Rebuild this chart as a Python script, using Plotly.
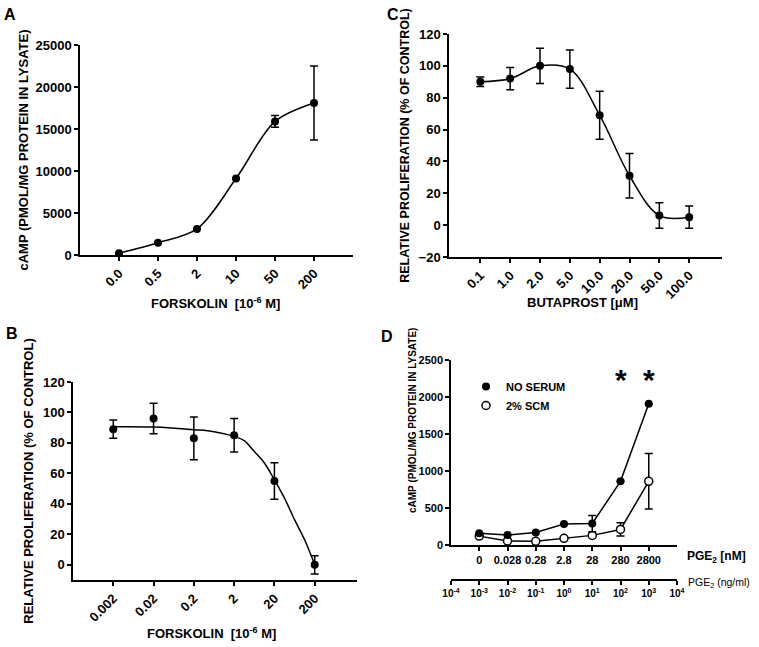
import plotly.graph_objects as go

# ---------------- data ----------------
# Panel A
a_labels = ["0.0", "0.5", "2", "10", "50", "200"]
a_camp = [200, 1450, 3100, 9100, 15900, 18100]
a_err = [0, 0, 0, 0, 700, 4400]

# Panel B
b_labels = ["0.002", "0.02", "0.2", "2", "20", "200"]
b_prolif = [89, 96, 83, 85, 55, 0]
b_err = [6, 10, 14, 11, 12, 6]
b_fit_pos = [0, 1, 2, 2.5, 3, 3.25, 3.5, 3.75, 4, 4.25, 4.5, 4.75, 5]
b_fit_val = [90.6, 90.4, 88.7, 87.4, 84.3, 81.5, 74.4, 66.8, 55.8, 43.8, 29.6, 16.4, 0]

# Panel C
c_labels = ["0.1", "1.0", "2.0", "5.0", "10.0", "20.0", "50.0", "100.0"]
c_prolif = [90, 92, 100, 98, 69, 31, 6, 5]
c_err = [3, 7, 11, 12, 15, 14, 8, 7]

# Panel D
d_labels = ["0", "0.028", "0.28", "2.8", "28", "280", "2800"]
d_noserum = [160, 135, 170, 285, 290, 860, 1910]
d_noserum_err = [0, 0, 0, 0, 110, 0, 0]
d_scm = [120, 55, 50, 90, 130, 210, 860]
d_scm_err = [0, 0, 0, 0, 0, 90, 375]
d_ng_exp = [-4, -3, -2, -1, 0, 1, 2, 3, 4]
d_star_labels = ["280", "2800"]

W, H = 759, 647
FONT = "Liberation Sans, Arial, sans-serif"


def px_x(p):
    return p / W


def px_y(p):
    return 1 - p / H


fig = go.Figure()

marker = dict(color="black", size=8)
open_marker = dict(color="white", size=8, line=dict(color="black", width=1.5))
line = dict(color="black", width=1.5)


def eb(arr):
    return dict(type="data", array=arr, visible=True, color="black", thickness=1.5, width=4)


# A
fig.add_trace(go.Scatter(x=list(range(len(a_labels))), y=a_camp, mode="lines+markers",
                         line=dict(color="black", width=1.5, shape="spline", smoothing=0.9),
                         marker=marker, error_y=eb(a_err), xaxis="x", yaxis="y",
                         showlegend=False))
# C
fig.add_trace(go.Scatter(x=list(range(len(c_labels))), y=c_prolif, mode="lines+markers",
                         line=dict(color="black", width=1.5, shape="spline", smoothing=1.0),
                         marker=marker, error_y=eb(c_err), xaxis="x2", yaxis="y2",
                         showlegend=False))
# B
fig.add_trace(go.Scatter(x=b_fit_pos, y=b_fit_val, mode="lines",
                         line=dict(color="black", width=1.5, shape="spline", smoothing=1.0),
                         xaxis="x3", yaxis="y3", showlegend=False, hoverinfo="skip"))
fig.add_trace(go.Scatter(x=list(range(len(b_labels))), y=b_prolif, mode="markers",
                         marker=marker, error_y=eb(b_err), xaxis="x3", yaxis="y3",
                         showlegend=False))
# D
fig.add_trace(go.Scatter(x=list(range(len(d_labels))), y=d_scm, mode="lines+markers",
                         line=line, marker=open_marker,
                         error_y=eb(d_scm_err), xaxis="x4", yaxis="y4", showlegend=False))
fig.add_trace(go.Scatter(x=list(range(len(d_labels))), y=d_noserum, mode="lines+markers",
                         line=line, marker=marker,
                         error_y=eb(d_noserum_err), xaxis="x4", yaxis="y4", showlegend=False))
# legend entries (marker only)
fig.add_trace(go.Scatter(x=[None], y=[None], mode="markers", name="NO SERUM",
                         marker=marker, xaxis="x4", yaxis="y4"))
fig.add_trace(go.Scatter(x=[None], y=[None], mode="markers", name="2% SCM",
                         marker=open_marker, xaxis="x4", yaxis="y4"))
# trace on xaxis5 so it is drawn
fig.add_trace(go.Scatter(x=[], y=[], xaxis="x5", yaxis="y4", showlegend=False))

tickfont = dict(family=FONT, size=13, color="black", weight="bold")
titlefont = dict(family=FONT, size=13, color="black", weight="bold")

common = dict(showline=True, linecolor="black", linewidth=1.5, ticks="outside",
              ticklen=4, tickwidth=1.5, tickcolor="black", showgrid=False,
              zeroline=False, tickfont=tickfont, automargin=False)

fig.update_layout(
    width=W, height=H,
    margin=dict(l=0, r=0, t=0, b=0),
    paper_bgcolor="white", plot_bgcolor="white",
    font=dict(family=FONT, color="black"),
    # A
    xaxis=dict(common, domain=[px_x(80), px_x(353)], range=[-1, 6], anchor="y",
               tickvals=list(range(len(a_labels))), ticktext=a_labels, tickangle=-45),
    yaxis=dict(common, domain=[px_y(255), px_y(45)], range=[0, 25000], anchor="x",
               tickvals=[0, 5000, 10000, 15000, 20000, 25000], tickformat="d",
               title=dict(text="cAMP (PMOL/MG PROTEIN IN LYSATE)", font=titlefont, standoff=4)),
    # C
    xaxis2=dict(common, domain=[px_x(449), px_x(722)], range=[-1.05, 8.1], anchor="y2",
                tickvals=list(range(len(c_labels))), ticktext=c_labels, tickangle=-45),
    yaxis2=dict(common, domain=[px_y(257), px_y(34)], range=[-20, 120], anchor="x2",
                tickvals=list(range(-20, 121, 20)),
                title=dict(text="RELATIVE PROLIFERATION (% OF CONTROL)",
                           font=dict(titlefont, size=12.5), standoff=6)),
    # B
    xaxis3=dict(common, domain=[px_x(73), px_x(357)], range=[-1, 6.05], anchor="y3",
                tickvals=list(range(len(b_labels))), ticktext=b_labels, tickangle=-45),
    yaxis3=dict(common, domain=[px_y(580), px_y(382)], range=[-10, 120], anchor="x3",
                tickvals=list(range(0, 121, 20)),
                title=dict(text="RELATIVE PROLIFERATION (% OF CONTROL)",
                           font=titlefont, standoff=6)),
    # D
    xaxis4=dict(common, domain=[px_x(451), px_x(677)], range=[-1, 7], anchor="y4",
                tickvals=list(range(len(d_labels))), ticktext=d_labels, tickangle=0,
                tickfont=dict(tickfont, size=11)),
    yaxis4=dict(common, domain=[px_y(545), px_y(360)], range=[0, 2500], anchor="x4",
                tickvals=[0, 500, 1000, 1500, 2000, 2500], tickfont=dict(tickfont, size=11)),
    xaxis5=dict(common, domain=[px_x(451), px_x(677)], range=[-4, 4], anchor="free",
                overlaying="x4", position=px_y(580), side="bottom",
                tickvals=d_ng_exp, ticktext=["10<sup>%d</sup>" % e for e in d_ng_exp],
                tickangle=0, tickfont=dict(tickfont, size=10)),
    legend=dict(x=px_x(466), y=px_y(372), xanchor="left", yanchor="top",
                font=dict(family=FONT, size=11, color="black", weight="bold"),
                bgcolor="rgba(0,0,0,0)", tracegroupgap=0, itemwidth=30),
)

ann = []
for txt, x, y in [("A", 10, 15), ("C", 393, 15), ("B", 12, 333), ("D", 387, 337)]:
    ann.append(dict(text=txt, x=px_x(x), y=px_y(y), xref="paper", yref="paper",
                    showarrow=False, xanchor="center", yanchor="middle",
                    font=dict(family=FONT, size=16, color="black", weight="bold")))
# x-axis titles
for txt, x, y in [("FORSKOLIN  [10<sup>-6</sup> M]", 215, 303),
                  ("BUTAPROST [μM]", 582, 303),
                  ("FORSKOLIN  [10<sup>-6</sup> M]", 212, 633)]:
    ann.append(dict(text=txt, x=px_x(x), y=px_y(y), xref="paper", yref="paper",
                    showarrow=False, xanchor="center", yanchor="middle",
                    font=titlefont))
# D y title
ann.append(dict(text="cAMP (PMOL/MG PROTEIN IN LYSATE)", x=px_x(412), y=px_y(421),
                xref="paper", yref="paper", showarrow=False, textangle=-90,
                xanchor="center", yanchor="middle",
                font=dict(family=FONT, size=10, color="black", weight="bold")))
ann.append(dict(text="PGE<sub>2</sub> [nM]", x=px_x(685), y=px_y(557), xref="paper",
                yref="paper", showarrow=False, xanchor="left", yanchor="middle",
                font=dict(family=FONT, size=12, color="black", weight="bold")))
ann.append(dict(text="PGE<sub>2</sub> (ng/ml)", x=px_x(686), y=px_y(583), xref="paper",
                yref="paper", showarrow=False, xanchor="left", yanchor="middle",
                font=dict(family=FONT, size=10.5, color="black")))
for lab in d_star_labels:
    ann.append(dict(text="*", x=d_labels.index(lab), y=2230, xref="x4", yref="y4",
                    showarrow=False, xanchor="center", yanchor="middle",
                    font=dict(family=FONT, size=30, color="black", weight="bold")))
fig.update_layout(annotations=ann)

fig.write_html("out.html", config={"displayModeBar": False},
               post_script="document.body.style.margin='0';document.body.style.overflow='hidden';")
